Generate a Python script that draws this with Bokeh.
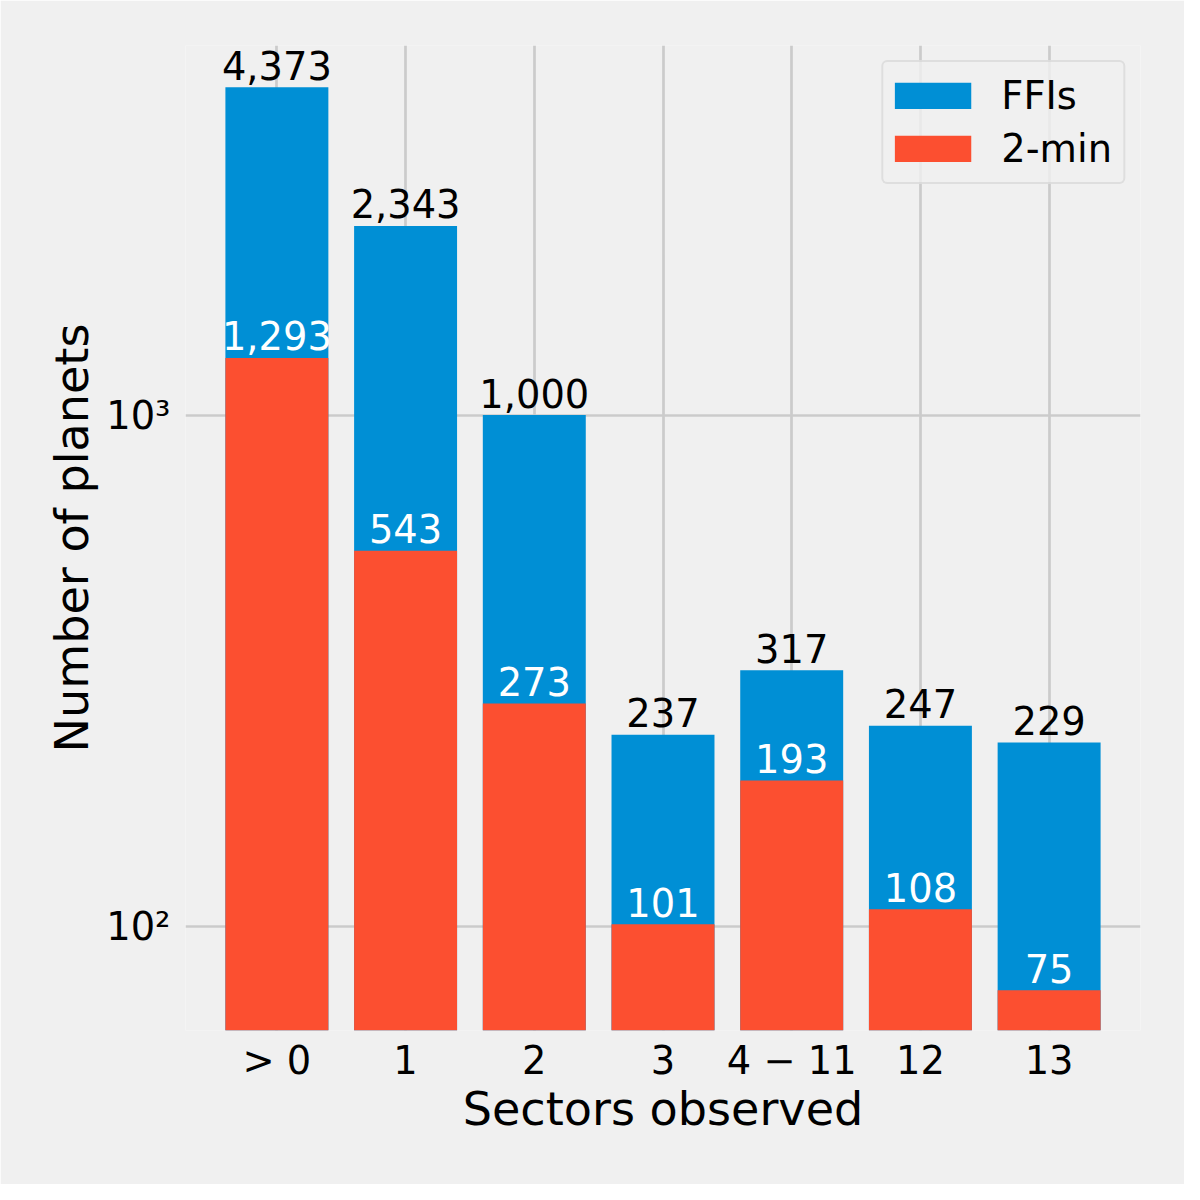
from bokeh.plotting import figure
from bokeh.models import Range1d, FixedTicker, Legend, LegendItem, ColumnDataSource
from bokeh.embed import file_html
from bokeh.resources import INLINE
from bokeh.core.properties import value

categories = ["> 0", "1", "2", "3", "4 \u2212 11", "12", "13"]
ffi_counts = [4373, 2343, 1000, 237, 317, 247, 229]
twomin_counts = [1293, 543, 273, 101, 193, 108, 75]
y_ticks = [100, 1000]
y_tick_labels = {100: "10\u00b2", 1000: "10\u00b3"}

FONT = "DejaVu Sans"
BG = "#f0f0f0"
BLUE = "#008fd5"
RED = "#fc4f30"
FS = "38.4px"
LFS = "46.1px"

xs = list(range(len(categories)))
src = ColumnDataSource(dict(
    x=xs,
    ffi=ffi_counts,
    two=twomin_counts,
    ffi_lbl=[f"{v:,}" for v in ffi_counts],
    two_lbl=[f"{v:,}" for v in twomin_counts],
))

p = figure(width=1184, height=1184, output_backend="svg", toolbar_location=None,
           y_axis_type="log",
           x_range=Range1d(-0.71, 6.71), y_range=Range1d(62.6, 5280),
           min_border_left=185, min_border_right=44, min_border_top=45, min_border_bottom=154)
p.background_fill_color = BG
p.border_fill_color = BG
p.outline_line_color = None

r_ffi = p.vbar(x="x", top="ffi", bottom=1, width=0.8, source=src,
               fill_color=BLUE, line_color=None)
r_two = p.vbar(x="x", top="two", bottom=1, width=0.8, source=src,
               fill_color=RED, line_color=None)

# legend proxies: single off-screen points, shown in the legend as thick bars
proxy = ColumnDataSource(dict(x=[-10], y=[1]))
l_ffi = p.line(x="x", y="y", source=proxy, line_color=BLUE, line_width=26.6, line_cap="butt")
l_two = p.line(x="x", y="y", source=proxy, line_color=RED, line_width=26.6, line_cap="butt")

p.text(x="x", y="ffi", text="ffi_lbl", source=src, text_align="center",
       text_baseline="alphabetic", y_offset=-22, text_color="black",
       text_font=value(FONT), text_font_size=FS)
p.text(x="x", y="two", text="two_lbl", source=src, text_align="center",
       text_baseline="alphabetic", y_offset=-22, text_color="white",
       text_font=value(FONT), text_font_size=FS)

# axes
xa = p.xaxis[0]
xa.ticker = FixedTicker(ticks=xs)
xa.major_label_overrides = {i: c for i, c in enumerate(categories)}
ya = p.yaxis[0]
ya.ticker = FixedTicker(ticks=y_ticks, minor_ticks=[])
ya.major_label_overrides = y_tick_labels

for ax in (xa, ya):
    ax.axis_line_color = None
    ax.major_tick_line_color = None
    ax.minor_tick_line_color = None
    ax.major_label_text_font = FONT
    ax.major_label_text_font_size = FS
    ax.major_label_text_color = "black"
    ax.axis_label_text_font = FONT
    ax.axis_label_text_font_size = LFS
    ax.axis_label_text_font_style = "normal"
    ax.axis_label_text_color = "black"

xa.axis_label = "Sectors observed"
ya.axis_label = "Number of planets"
xa.major_label_standoff = 1
ya.major_label_standoff = 9
xa.axis_label_standoff = -4
ya.axis_label_standoff = 4

for g in (p.xgrid[0], p.ygrid[0]):
    g.grid_line_color = "#cbcbcb"
    g.grid_line_width = 2.7

legend = Legend(items=[LegendItem(label="FFIs", renderers=[l_ffi]),
                       LegendItem(label="2-min", renderers=[l_two])],
                location="top_right")
legend.label_text_font = FONT
legend.label_text_font_size = FS
legend.label_text_color = "black"
legend.glyph_width = 77
legend.glyph_height = 27
legend.label_standoff = 30
legend.padding = 11
legend.spacing = 8
legend.margin = 15
legend.background_fill_color = BG
legend.background_fill_alpha = 0.8
legend.border_line_color = "#cccccc"
legend.border_line_width = 2
legend.border_radius = 6
p.add_layout(legend)

open("out.html", "w").write(file_html(p, INLINE))
